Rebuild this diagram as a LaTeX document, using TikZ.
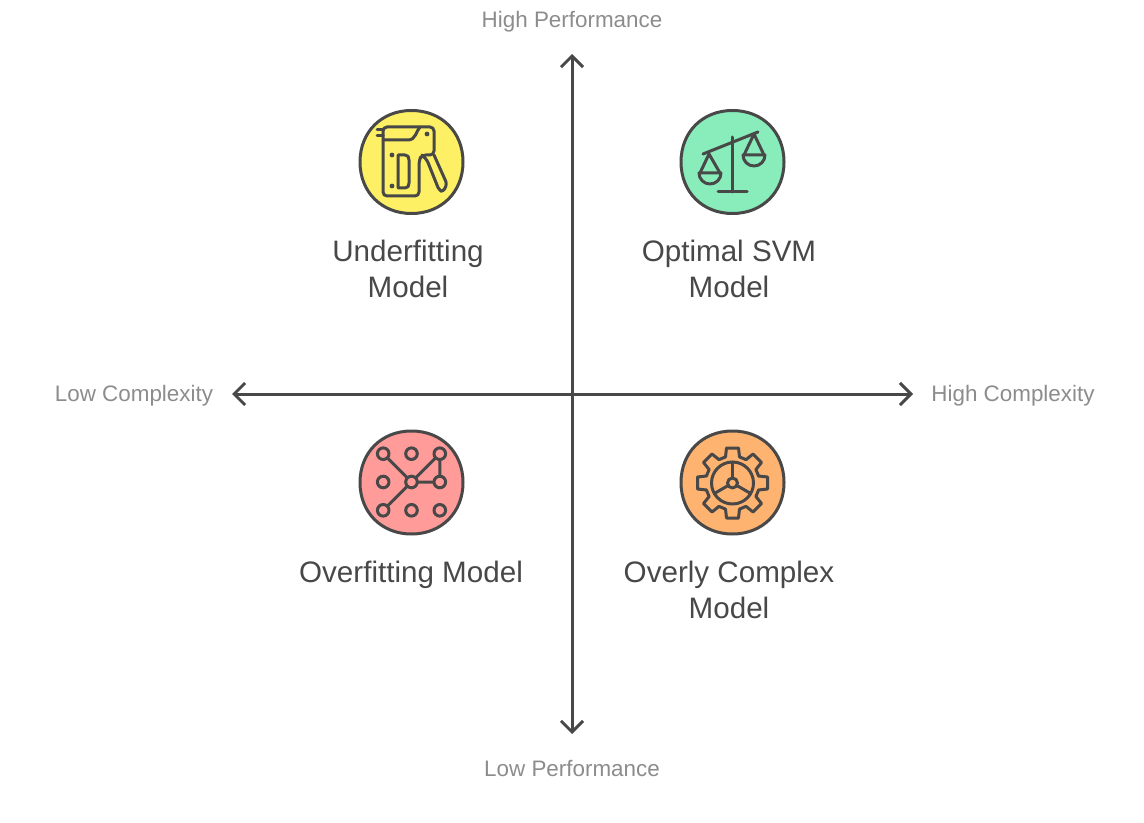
\documentclass[tikz,border=0pt]{standalone}
\usepackage{fontspec}
\setmainfont{Liberation Sans}
\usetikzlibrary{arrows.meta}
\definecolor{inkdark}{HTML}{484848}
\definecolor{axistext}{HTML}{8C8C8C}
\definecolor{quadyellow}{HTML}{FEF065}
\definecolor{quadgreen}{HTML}{88EDBB}
\definecolor{quadred}{HTML}{FF9C9A}
\definecolor{quadorange}{HTML}{FFB370}
\tikzset{
	axisline/.style={draw=inkdark,line width=1.5pt,{Straight Barb[length=5.5pt,width=11pt]}-{Straight Barb[length=5.5pt,width=11pt]}},
	axislabel/.style={text=axistext,font=\fontsize{11.2}{13}\selectfont},
	quadlabel/.style={text=inkdark,align=center,font=\fontsize{14.8}{18}\selectfont},
	badge/.style={draw=inkdark,line width=1.5pt},
	icon/.style={draw=inkdark,line width=1.5pt}
}
\begin{document}
\begin{tikzpicture}[x=0.5pt,y=-0.5pt,line join=round,line cap=round]
	\useasboundingbox (0,0) rectangle (1144,823);
	% Hai trục
	\node[axislabel] (hiperf) at (572,22) {High Performance};
	\node[axislabel] (loperf) at (572,768.5) {Low Performance};
	\node[axislabel] (locomp) at (134,396) {Low Complexity};
	\node[axislabel] (hicomp) at (1013,396) {High Complexity};
	\path
	(572,54) coordinate (T)
	(572,734) coordinate (B)
	(232,394) coordinate (L)
	(913,394) coordinate (R);
	\draw[axisline] (T) -- (B);
	\draw[axisline] (L) -- (R);
	% Các hình tròn
	\foreach \x/\y/\c in {411.5/162/quadyellow, 732.5/162/quadgreen, 411.5/482.5/quadred, 732.5/482.5/quadorange}{
		\draw[badge,fill=\c,shift={(\x,\y)}] (51.5,0) .. controls (51.5,30) and (30,51.5) .. (0,51.5) .. controls (-30,51.5) and (-51.5,30) .. (-51.5,0) .. controls (-51.5,-30) and (-30,-51.5) .. (0,-51.5) .. controls (30,-51.5) and (51.5,-30) .. (51.5,0) -- cycle;
	}
	% Nhãn
	\node[quadlabel] (underlabel) at (408,269) {Underfitting\\Model};
	\node[quadlabel] (optimallabel) at (729,269) {Optimal SVM\\Model};
	\node[quadlabel] (overlabel) at (411,575) {Overfitting Model};
	\node[quadlabel] (complexlabel) at (729,590) {Overly Complex\\Model};
	% Súng bắn ghim
	\begin{scope}[shift={(411,161)}]
		\draw[icon,rounded corners=2pt] (-28,-34) -- (23,-34) -- (23,-6) -- (11,-6) -- (8,-1) -- (8,35) -- (-28,35) -- cycle;
		\draw[icon] (-28,-21) -- (-3,-21) .. controls (5,-21) and (5,-30) .. (9,-34);
		\draw[icon] (-34,-31) -- (-28,-31);
		\draw[icon] (-34,-25) -- (-28,-25);
		\draw[icon,rounded corners=1.5pt] (23,-6) -- (36,23) -- (32,31) -- (28,29) -- (16,-1) -- (11,-6);
		\draw[icon] (-13,-6) -- (-6,-6) .. controls (-3,-6) and (-2,-4) .. (-2,-1) -- (-2,22) .. controls (-2,25) and (-3,27) .. (-6,27) -- (-13,27) -- cycle;
		\foreach \x/\y in {16/-27, -19/-6, -19/25}{
			\fill[inkdark] (\x,\y) circle (2.4);
		}
	\end{scope}
	% Cái cân
	\begin{scope}[shift={(732,161)}]
		\draw[icon] (-29,-7) -- (26,-29);
		\draw[icon] (0,-24) -- (0,31);
		\draw[icon] (-14,31) -- (15,31);
		\draw[icon] (-32,12) -- (-23,-7) -- (-12,12);
		\draw[icon] (-33,12) -- (-11,12) arc (0:180:11) -- cycle;
		\draw[icon] (12,-6) -- (22,-27) -- (32,-6);
		\draw[icon] (11,-6) -- (33,-6) arc (0:180:11) -- cycle;
	\end{scope}
	% Mạng nút
	\begin{scope}[shift={(411.5,482)}]
		\draw[icon] (-28.3,-28.3) -- (0,0) -- (28.3,-28.3) -- (28.3,0) -- (0,0) -- (-28.3,28.3);
		\foreach \x in {-28.3,0,28.3}{
			\foreach \y in {-28.3,0,28.3}{
				\draw[icon,fill=quadred] (\x,\y) circle (5.8);
			}
		}
	\end{scope}
	% Bánh răng
	\begin{scope}[shift={(732.5,483)}]
		\foreach \a in {0,45,...,315}{
			\draw[icon,rotate=\a] (-15:27) -- (35,-6) -- (35,6) -- (15:27) -- (30:27);
		}
		\draw[icon] (0,0) circle (21);
		\draw[icon] (0,0) circle (5);
		\foreach \a in {90,210,330}{
			\draw[icon] (\a:-5) -- (\a:-21);
		}
	\end{scope}
\end{tikzpicture}
\end{document}
